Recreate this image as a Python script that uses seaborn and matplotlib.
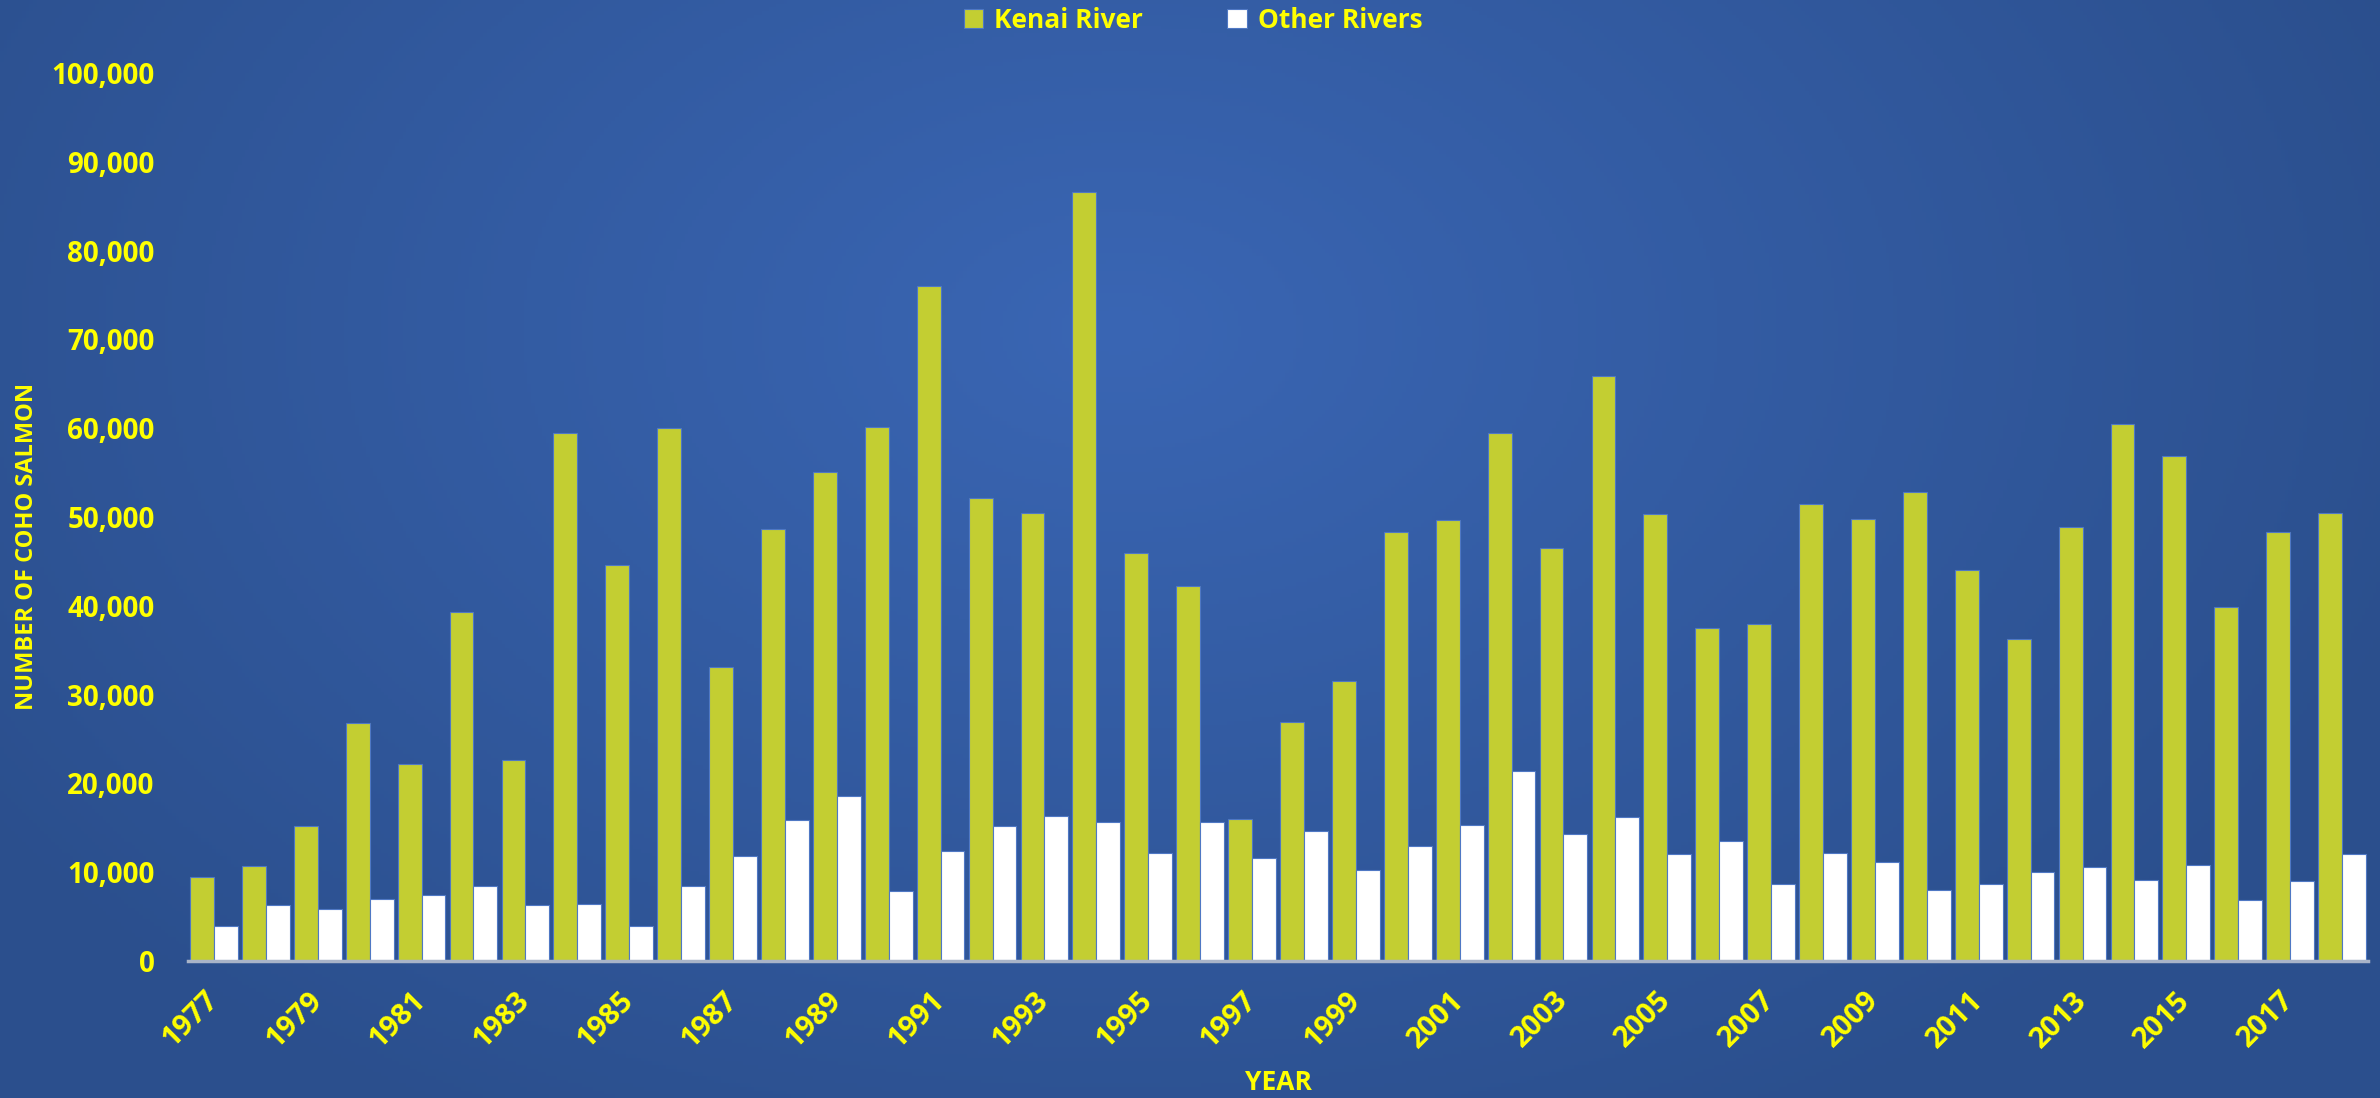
import numpy as np
import pandas as pd
import matplotlib
matplotlib.use("Agg")
import matplotlib.pyplot as plt
import matplotlib.transforms as mtransforms
import seaborn as sns
from matplotlib.ticker import FuncFormatter

# ---------------- data ----------------
years = list(range(1977, 2019))

kenai = [9470, 10750, 15200, 26800, 22200, 39300, 22600, 59500, 44600, 60000,
         33100, 48600, 55100, 60100, 76000, 52100, 50400, 86600, 46000, 42200,
         16000, 26900, 31500, 48300, 49700, 59500, 46500, 65900, 50300, 37500,
         37900, 51500, 49800, 52800, 44000, 36300, 48900, 60500, 56900, 39900,
         48300, 50500]

other = [3900, 6300, 5800, 7000, 7400, 8400, 6300, 6400, 3900, 8500,
         11800, 15900, 18600, 7900, 12400, 15200, 16300, 15600, 12200, 15700,
         11600, 14600, 10200, 13000, 15300, 21400, 14300, 16200, 12000, 13500,
         8700, 12200, 11200, 8000, 8700, 10000, 10600, 9100, 10800, 6900,
         9000, 12000]

series_names = ["Kenai River", "Other Rivers"]

# long-form table for seaborn
df = pd.DataFrame({
    "Year": [str(y) for y in years] * 2,
    "Count": kenai + other,
    "River": [series_names[0]] * len(years) + [series_names[1]] * len(years),
})

# ---------------- style ----------------
sns.set_style("white")
plt.rcParams["font.family"] = ["Open Sans", "DejaVu Sans"]
plt.rcParams["font.weight"] = "bold"

YELLOW = "#FFFF00"
KENAI_GREEN = "#C3CE32"

fig = plt.figure(figsize=(23.8, 10.98), dpi=100)

# blue gradient background
bg = fig.add_axes([0, 0, 1, 1], zorder=-10)
h, w = 300, 650
yy, xx = np.mgrid[0:h, 0:w]
dist = np.sqrt(((xx / w - 0.47) * 1.3) ** 2 + ((yy / h - 0.3) * 0.9) ** 2)
dist = np.clip(dist / 0.75, 0, 1)
light = np.array([58, 102, 180]) / 255.0
dark = np.array([43, 79, 141]) / 255.0
img = light[None, None, :] * (1 - dist[..., None]) + dark[None, None, :] * dist[..., None]
bg.imshow(img, aspect="auto", extent=[0, 1, 0, 1], origin="upper")
bg.axis("off")

ax = fig.add_axes([188 / 2380, 1 - 961 / 1098, 2180 / 2380, 888 / 1098])
ax.set_facecolor("none")

sns.barplot(data=df, x="Year", y="Count", hue="River", ax=ax,
            palette={series_names[0]: KENAI_GREEN, series_names[1]: "white"},
            width=0.92, gap=0, edgecolor="#4F78C4", linewidth=0.8,
            saturation=1, legend=True)

# ---------------- axes ----------------
ax.set_ylim(0, 100000)
ax.set_xlim(-0.5, len(years) - 0.5)
ax.set_yticks(range(0, 100001, 10000))
ax.yaxis.set_major_formatter(FuncFormatter(lambda v, p: f"{int(v):,}"))
ax.tick_params(axis="y", colors=YELLOW, labelsize=20, length=0, pad=24)

ax.set_xticks(range(0, len(years), 2))
ax.set_xticklabels([str(y) for y in years[::2]], rotation=45, ha="right",
                   color=YELLOW, fontsize=21, fontweight="bold")
ax.tick_params(axis="x", length=0, pad=18)

# nudge the rotated year labels a little to the right
shift = mtransforms.ScaledTranslation(10 / 100, 0, fig.dpi_scale_trans)
for lab in ax.get_xticklabels():
    lab.set_transform(lab.get_transform() + shift)

for lab in ax.get_yticklabels():
    lab.set_fontweight("bold")

for side in ["top", "right", "left"]:
    ax.spines[side].set_visible(False)
ax.spines["bottom"].set_color("#A9B4C8")
ax.spines["bottom"].set_linewidth(2.5)

ax.set_xlabel("YEAR", color=YELLOW, fontsize=19, fontweight="bold")
ax.xaxis.set_label_coords(0.5, -0.137)
ax.xaxis.label.set_va("center")
ax.set_ylabel("NUMBER OF COHO SALMON", color=YELLOW, fontsize=17, fontweight="bold")
ax.yaxis.set_label_coords(-0.0739, 0.467)
ax.yaxis.label.set_va("center")

# legend at the top centre
handles, labels = ax.get_legend_handles_labels()
ax.get_legend().remove()
leg = fig.legend(handles, labels, loc="center", bbox_to_anchor=(1193 / 2380, 1 - 20 / 1098),
                 ncol=2, frameon=False, fontsize=19, handlelength=0.75, handleheight=0.75,
                 handletextpad=0.4, columnspacing=3.2)
for t in leg.get_texts():
    t.set_color(YELLOW)
    t.set_fontweight("bold")

fig.savefig("out.png", dpi=100)
